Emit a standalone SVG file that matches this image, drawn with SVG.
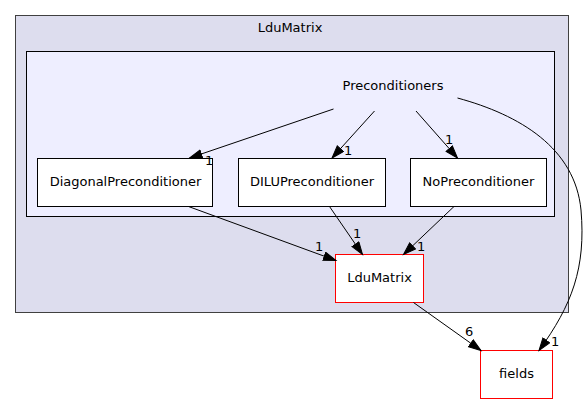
<svg xmlns="http://www.w3.org/2000/svg" width="588" height="404" viewBox="0 0 588 404">
<style>
text{font-family:"DejaVu Sans","Noto Sans",sans-serif;font-size:13px;fill:#000}
.c{text-anchor:middle}
.node{fill:#fff;stroke:#000;stroke-width:1}
.red{fill:#fff;stroke:#ff0000;stroke-width:1}
.e{fill:none;stroke:#000;stroke-width:1;marker-end:url(#ah)}
</style>
<defs>
<marker id="ah" markerUnits="userSpaceOnUse" markerWidth="15" markerHeight="11" refX="13" refY="4.7" orient="auto">
<path d="M0.5,0.5 L13,4.7 L0.5,8.9 z" fill="#000" stroke="#000" stroke-width="1"/>
</marker>
</defs>
<rect width="588" height="404" fill="#fff"/>
<g id="cluster_LduMatrix">
<rect x="15.5" y="15.5" width="553" height="297" fill="#ddddee" stroke="#404040"/>
<text class="c" x="290" y="32">LduMatrix</text>
</g>
<g id="cluster_Preconditioners">
<rect x="26.5" y="51.5" width="528" height="165" fill="#eeeeff" stroke="#000"/>
</g>
<g id="node_Preconditioners">
<text class="c" x="393" y="90">Preconditioners</text>
</g>
<g id="node_DiagonalPreconditioner">
<rect class="node" x="37.5" y="158.5" width="175" height="48"/>
<text class="c" x="125.5" y="186">DiagonalPreconditioner</text>
</g>
<g id="node_DILUPreconditioner">
<rect class="node" x="238.5" y="158.5" width="147" height="48"/>
<text class="c" x="312" y="186">DILUPreconditioner</text>
</g>
<g id="node_NoPreconditioner">
<rect class="node" x="410.5" y="158.5" width="136" height="48"/>
<text class="c" x="478.5" y="186">NoPreconditioner</text>
</g>
<g id="node_LduMatrix">
<rect class="red" x="335.5" y="254.5" width="88" height="48"/>
<text class="c" x="379.5" y="282">LduMatrix</text>
</g>
<g id="node_fields">
<rect class="red" x="480.5" y="350.5" width="72" height="48"/>
<text class="c" x="516.5" y="378">fields</text>
</g>
<g id="edges">
<path class="e" d="M333.5,109 L189.5,158"/>
<text x="205" y="165">1</text>
<path class="e" d="M374.5,111 L332,158"/>
<text x="344" y="155">1</text>
<path class="e" d="M416,111 L457.5,158"/>
<text x="445" y="144">1</text>
<path class="e" d="M457.5,98 C520,115 575,148 581,210 C586,268 572,305 539,350.5"/>
<text x="551" y="346">1</text>
<path class="e" d="M188.5,206.5 L336,260.5"/>
<text x="315" y="251">1</text>
<path class="e" d="M329.5,206.5 L362.5,254.5"/>
<text x="353" y="238">1</text>
<path class="e" d="M454,206.5 L403.5,254.5"/>
<text x="417" y="251">1</text>
<path class="e" d="M413.5,302.5 L481,350.5"/>
<text x="465" y="336">6</text>
</g>
</svg>
